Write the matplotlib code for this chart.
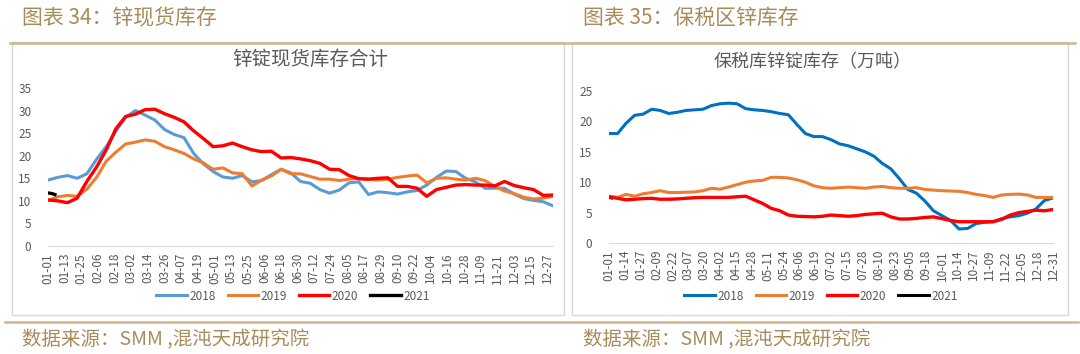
import numpy as np
import pandas as pd
import matplotlib
matplotlib.use("Agg")
import matplotlib.pyplot as plt
from matplotlib.patches import Rectangle
from matplotlib.lines import Line2D

plt.rcParams['font.family'] = ['Noto Sans CJK SC', 'DejaVu Sans']

# weekly sample dates (month-day only, year irrelevant)
weeks = pd.date_range('2019-01-01', periods=53, freq='7D').strftime('%m-%d').tolist()

# left chart: zinc spot inventory (10k t)
spot_2018 = [14.6, 15.2, 15.6, 15.0, 16.0, 19.2, 22.0, 25.5, 28.5, 30.0, 29.0, 27.9, 25.8,
             24.7, 24.0, 20.5, 18.2, 16.5, 15.3, 15.0, 15.6, 14.2, 14.5, 15.8, 17.0, 16.2,
             14.3, 13.9, 12.5, 11.7, 12.4, 14.0, 14.2, 11.4, 12.0, 11.8, 11.5, 12.0, 12.3,
             13.5, 15.2, 16.6, 16.5, 15.0, 14.2, 12.8, 12.8, 12.8, 11.5, 10.5, 10.1, 9.8, 8.9]
spot_2019 = [10.1, 10.9, 11.2, 11.0, 12.6, 15.2, 18.8, 20.8, 22.6, 23.0, 23.5, 23.2, 22.0,
             21.3, 20.5, 19.3, 18.4, 17.0, 17.3, 16.2, 16.0, 13.3, 14.6, 15.5, 17.0, 16.0,
             16.0, 15.4, 14.8, 14.8, 14.5, 14.8, 15.0, 14.8, 14.6, 14.8, 15.2, 15.5, 15.7,
             14.0, 15.0, 15.1, 14.8, 14.6, 15.0, 14.5, 13.2, 12.2, 11.6, 10.8, 10.4, 10.6, 11.0]
spot_2020 = [10.2, 10.0, 9.6, 10.6, 14.3, 17.5, 21.3, 26.0, 28.7, 29.2, 30.2, 30.3, 29.3,
             28.5, 27.5, 25.5, 23.8, 22.0, 22.2, 22.8, 22.0, 21.3, 20.9, 21.0, 19.5, 19.6,
             19.3, 18.9, 18.3, 17.0, 16.9, 15.6, 14.9, 14.8, 15.0, 15.1, 13.2, 13.2, 12.8,
             11.0, 12.5, 13.0, 13.5, 13.6, 13.5, 13.5, 13.3, 14.3, 13.4, 12.9, 12.5, 11.2, 11.3]
spot_2021_dates = ['01-02', '01-04', '01-06']
spot_2021 = [11.7, 11.6, 11.4]

# right chart: bonded zone zinc ingot inventory (10k t)
bond_2018 = [18.0, 18.0, 19.7, 21.0, 21.2, 22.0, 21.8, 21.3, 21.5, 21.8, 21.9, 22.0, 22.6,
             22.9, 23.0, 22.9, 22.1, 21.9, 21.8, 21.6, 21.3, 21.1, 19.5, 18.0, 17.5, 17.5,
             17.0, 16.3, 16.0, 15.5, 15.0, 14.3, 13.1, 12.2, 10.6, 8.8, 8.2, 6.9, 5.3,
             4.5, 3.7, 2.3, 2.4, 3.2, 3.4, 3.5, 4.0, 4.3, 4.5, 4.9, 5.6, 7.0, 7.4]
bond_2019 = [7.7, 7.5, 8.0, 7.7, 8.1, 8.3, 8.6, 8.3, 8.3, 8.35, 8.4, 8.6, 9.0,
             8.85, 9.2, 9.6, 10.0, 10.2, 10.3, 10.8, 10.8, 10.7, 10.4, 10.0, 9.4, 9.1,
             9.0, 9.1, 9.2, 9.1, 9.0, 9.2, 9.3, 9.1, 9.0, 9.0, 9.1, 8.8, 8.7,
             8.6, 8.55, 8.5, 8.3, 8.0, 7.8, 7.5, 7.9, 8.0, 8.05, 7.9, 7.5, 7.5, 7.5]
bond_2020 = [7.6, 7.35, 7.1, 7.2, 7.3, 7.35, 7.2, 7.2, 7.25, 7.35, 7.45, 7.5, 7.5,
             7.5, 7.5, 7.6, 7.7, 7.1, 6.5, 5.7, 5.3, 4.6, 4.4, 4.35, 4.3, 4.4,
             4.6, 4.5, 4.4, 4.5, 4.7, 4.8, 4.9, 4.3, 3.95, 3.95, 4.05, 4.2, 4.3,
             4.0, 3.7, 3.5, 3.5, 3.5, 3.5, 3.5, 3.9, 4.6, 5.0, 5.2, 5.4, 5.3, 5.5]
bond_2021_dates = ['01-01', '01-03']
bond_2021 = [7.5, 7.4]

left_ticks = ['01-01', '01-13', '01-25', '02-06', '02-18', '03-02', '03-14', '03-26', '04-07',
              '04-19', '05-01', '05-13', '05-25', '06-06', '06-18', '06-30', '07-12', '07-24',
              '08-05', '08-17', '08-29', '09-10', '09-22', '10-04', '10-16', '10-28', '11-09',
              '11-21', '12-03', '12-15', '12-27']
right_ticks = ['01-01', '01-14', '01-27', '02-09', '02-22', '03-07', '03-20', '04-02', '04-15',
               '04-28', '05-11', '05-24', '06-06', '06-19', '07-02', '07-15', '07-28', '08-10',
               '08-23', '09-05', '09-18', '10-01', '10-14', '10-27', '11-09', '11-22', '12-05',
               '12-18', '12-31']


def doy(md):
    return np.array([pd.Timestamp('2019-' + s).dayofyear - 1 for s in md])


W, H = 1080, 354
GOLD = '#A98B5A'
GREY = '#595959'


def box(l, t, r, b):
    return [l / W, 1 - b / H, (r - l) / W, (b - t) / H]


fig = plt.figure(figsize=(W / 100, H / 100), dpi=100)

# header / footer decoration
fig.text(22 / W, 1 - 18 / H, '图表 34：锌现货库存', color=GOLD, fontsize=15, va='center')
fig.text(583 / W, 1 - 18 / H, '图表 35：保税区锌库存', color=GOLD, fontsize=15, va='center')
fig.add_artist(Line2D([10 / W, 1075 / W], [1 - 43 / H] * 2, color='#CDB690', lw=1.8))
fig.add_artist(Line2D([5 / W, 1078 / W], [1 - 322 / H] * 2, color='#CDB690', lw=1.8))
for x0 in (22, 583):
    fig.text(x0 / W, 1 - 340 / H, '数据来源：SMM ,混沌天成研究院', color=GOLD, fontsize=14,
             va='center')

# chart frames
for l, r in ((12, 564), (572, 1068)):
    fig.add_artist(Rectangle((l / W, 1 - 315 / H), (r - l) / W, 273 / H, transform=fig.transFigure,
                             fill=False, edgecolor='#D9D9D9', lw=1))


def style(ax, ymax, ticks):
    ax.set_xlim(0, 364)
    ax.set_ylim(0, ymax)
    ax.set_yticks(range(0, ymax + 1, 5))
    ax.set_xticks(doy(ticks))
    ax.set_xticklabels(ticks, rotation=90)
    for s in ('top', 'right', 'left'):
        ax.spines[s].set_visible(False)
    ax.spines['bottom'].set_color('#D9D9D9')
    ax.tick_params(length=0, labelsize=8.5, colors=GREY)
    ax.tick_params(axis='y', pad=12)
    ax.tick_params(axis='x', pad=5)


def legend(ax, handles, labels, xc):
    ax.legend(handles, labels, loc='center', bbox_to_anchor=(xc / W, 1 - 296 / H),
              bbox_transform=fig.transFigure, ncol=4, frameon=False, fontsize=8.5,
              handlelength=2.6, columnspacing=1.0, labelcolor=GREY, handletextpad=0.2)


wx = doy(weeks)

ax1 = fig.add_axes(box(48, 88, 553, 246))
ax1.plot(wx, spot_2018, color='#5B9BD5', lw=2.2, label='2018')
ax1.plot(wx, spot_2019, color='#ED7D31', lw=2.2, label='2019')
ax1.plot(wx, spot_2020, color='#FF0000', lw=2.4, label='2020')
ax1.plot(doy(spot_2021_dates), spot_2021, color='black', lw=2.4, label='2021')
style(ax1, 35, left_ticks)
fig.text(310 / W, 1 - 59 / H, '锌锭现货库存合计', ha='center', va='center', fontsize=14, color=GREY)
h, lab = ax1.get_legend_handles_labels()
legend(ax1, h, lab, 293)

ax2 = fig.add_axes(box(609, 91, 1053, 243))
ax2.plot(doy(bond_2021_dates), bond_2021, color='black', lw=2.2, label='2021', zorder=1)
ax2.plot(wx, bond_2018, color='#0070C0', lw=2.2, label='2018')
ax2.plot(wx, bond_2019, color='#ED7D31', lw=2.2, label='2019')
ax2.plot(wx, bond_2020, color='#FF0000', lw=2.4, label='2020')
style(ax2, 25, right_ticks)
fig.text(813 / W, 1 - 62 / H, '保税库锌锭库存（万吨）', ha='center', va='center', fontsize=13, color=GREY)
h, lab = ax2.get_legend_handles_labels()
order = [1, 2, 3, 0]
legend(ax2, [h[i] for i in order], [lab[i] for i in order], 821)

fig.savefig('out.png', dpi=100, facecolor='white')
